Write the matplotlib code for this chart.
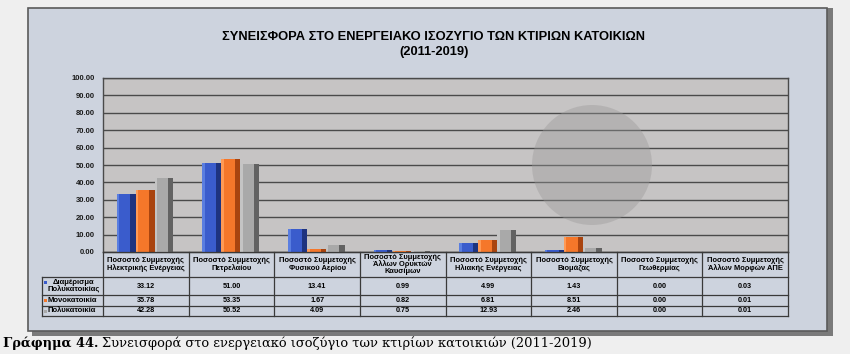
import numpy as np
import matplotlib
matplotlib.use("Agg")
from matplotlib import pyplot as plt
from matplotlib.patches import Rectangle, Ellipse
from matplotlib.lines import Line2D

plt.rcParams['font.family'] = ['Liberation Sans', 'DejaVu Sans']

# δεδομένα
categories = ["Ποσοστό Συμμετοχής\nΗλεκτρικής Ενέργειας",
              "Ποσοστό Συμμετοχής\nΠετρελαίου",
              "Ποσοστό Συμμετοχής\nΦυσικού Αερίου",
              "Ποσοστό Συμμετοχής\nΆλλων Ορυκτών\nΚαυσίμων",
              "Ποσοστό Συμμετοχής\nΗλιακής Ενέργειας",
              "Ποσοστό Συμμετοχής\nΒιομάζας",
              "Ποσοστό Συμμετοχής\nΓεωθερμίας",
              "Ποσοστό Συμμετοχής\nΆλλων Μορφών ΑΠΕ"]
series_names = ["Διαμέρισμα\nΠολυκατοικίας", "Μονοκατοικία", "Πολυκατοικία"]
diamerisma = [33.12, 51.00, 13.41, 0.99, 4.99, 1.43, 0.00, 0.03]
monokatoikia = [35.78, 53.35, 1.67, 0.82, 6.81, 8.51, 0.00, 0.01]
polykatoikia = [42.28, 50.52, 4.09, 0.75, 12.93, 2.46, 0.00, 0.01]
yticks = np.arange(0, 101, 10)

series = [diamerisma, monokatoikia, polykatoikia]
front = ["#3a5ccc", "#f5772a", "#a9a9a9"]
light = ["#5a7ee0", "#ff9a55", "#c4c4c4"]
dark = ["#1e337f", "#a9440f", "#626262"]

W, H = 850, 354
fig = plt.figure(figsize=(8.5, 3.54), dpi=100)
fig.patch.set_facecolor("#efefef")


def fx(x):
    return x / W


def fy(y):
    return 1 - y / H


# πλαίσιο γραφήματος με σκιά
fig.patches.append(Rectangle((fx(32), fy(336)), fx(801), 328 / H, transform=fig.transFigure,
                             facecolor="#7a7a7a", edgecolor="none", zorder=-3))
fig.patches.append(Rectangle((fx(28), fy(331)), fx(799), 323 / H, transform=fig.transFigure,
                             facecolor="#cdd3de", edgecolor="#5a5a5a", lw=1.2, zorder=-2))

# τίτλος
fig.text(fx(434), fy(37), "ΣΥΝΕΙΣΦΟΡΑ ΣΤΟ ΕΝΕΡΓΕΙΑΚΟ ΙΣΟΖΥΓΙΟ ΤΩΝ ΚΤΙΡΙΩΝ ΚΑΤΟΙΚΙΩΝ",
         ha="center", va="center", fontsize=9.3, fontweight="bold")
fig.text(fx(434), fy(52), "(2011-2019)", ha="center", va="center", fontsize=9.3, fontweight="bold")

# άξονες
x0, x1, ytop, ybot = 103, 788, 78, 252
ax = fig.add_axes([fx(x0), fy(ybot), (x1 - x0) / W, (ybot - ytop) / H])
ax.set_facecolor("#c6c4c4")
ax.set_xlim(-0.5, len(categories) - 0.5)
ax.set_ylim(0, 100)
ax.set_yticks(yticks)
ax.set_yticklabels(["%.2f" % v for v in yticks], fontsize=5.5, fontweight="bold", color="#1a1a1a")
ax.tick_params(axis="y", length=0, pad=6)
ax.set_xticks([])
ax.grid(axis="y", color="#4a4a4a", lw=1.0)
ax.set_axisbelow(True)
for s in ax.spines.values():
    s.set_color("#4a4a4a")
    s.set_linewidth(1.0)

# ημιδιαφανής κύκλος στο φόντο
ax.add_patch(Ellipse((fx(592), fy(165)), 120 / W, 120 / H, transform=fig.transFigure,
                     facecolor="#9a9898", edgecolor="none", alpha=0.4, zorder=2.5))

x = np.arange(len(categories))
offsets = [-0.23, -0.008, 0.212]
bw = 0.22
for i, vals in enumerate(series):
    xs = x + offsets[i]
    ax.bar(xs, vals, width=bw, color=front[i], zorder=3)
    ax.bar(xs - bw / 2 + 0.015, vals, width=0.03, color=light[i], zorder=4)
    ax.bar(xs + bw / 2 - 0.03, vals, width=0.06, color=dark[i], zorder=4)

# πίνακας δεδομένων
col_w = (x1 - x0) / len(categories)
row_y = [252, 277, 295, 306, 316]
lab_x = 42
tc = "#3a3a3a"
for i in range(len(categories) + 1):
    xx = x0 + i * col_w
    fig.add_artist(Line2D([fx(xx), fx(xx)], [fy(row_y[0]), fy(row_y[-1])], color=tc, lw=0.9))
fig.add_artist(Line2D([fx(lab_x), fx(lab_x)], [fy(row_y[1]), fy(row_y[-1])], color=tc, lw=0.9))
for j, yy in enumerate(row_y):
    xs_ = lab_x if j >= 1 else x0
    fig.add_artist(Line2D([fx(xs_), fx(x1)], [fy(yy), fy(yy)], color=tc, lw=0.9))

for i, c in enumerate(categories):
    fig.text(fx(x0 + (i + 0.5) * col_w), fy((row_y[0] + row_y[1]) / 2), c,
             ha="center", va="center", fontsize=5.4, fontweight="bold", linespacing=1.0)

for j, vals in enumerate(series):
    yc = fy((row_y[j + 1] + row_y[j + 2]) / 2)
    for i, v in enumerate(vals):
        fig.text(fx(x0 + (i + 0.5) * col_w), yc, "%.2f" % v,
                 ha="center", va="center", fontsize=5.2, fontweight="bold")
    sq_y = fy(row_y[1] + 5) if j == 0 else yc
    fig.patches.append(Rectangle((fx(44), sq_y - 1.5 / H), 3 / W, 3 / H,
                                 transform=fig.transFigure,
                                 facecolor=front[j], edgecolor="none"))
    if j == 0:
        fig.text(fx(74), yc, series_names[j], ha="center", va="center",
                 fontsize=5.5, fontweight="bold", linespacing=0.95)
    else:
        fig.text(fx(48), yc, series_names[j], ha="left", va="center",
                 fontsize=5.5, fontweight="bold")

# λεζάντα
serif = ["DejaVu Serif"]
t1 = fig.text(fx(3), fy(343), "Γράφημα 44.", ha="left", va="center", fontsize=9.4,
              fontweight="bold", family=serif)
fig.canvas.draw()
bb = t1.get_window_extent(renderer=fig.canvas.get_renderer())
fig.text(bb.x1 / W + 4 / W, fy(343), "Συνεισφορά στο ενεργειακό ισοζύγιο των κτιρίων κατοικιών (2011-2019)",
         ha="left", va="center", fontsize=9.4, family=serif)

fig.savefig("out.png", dpi=100, facecolor=fig.get_facecolor())
